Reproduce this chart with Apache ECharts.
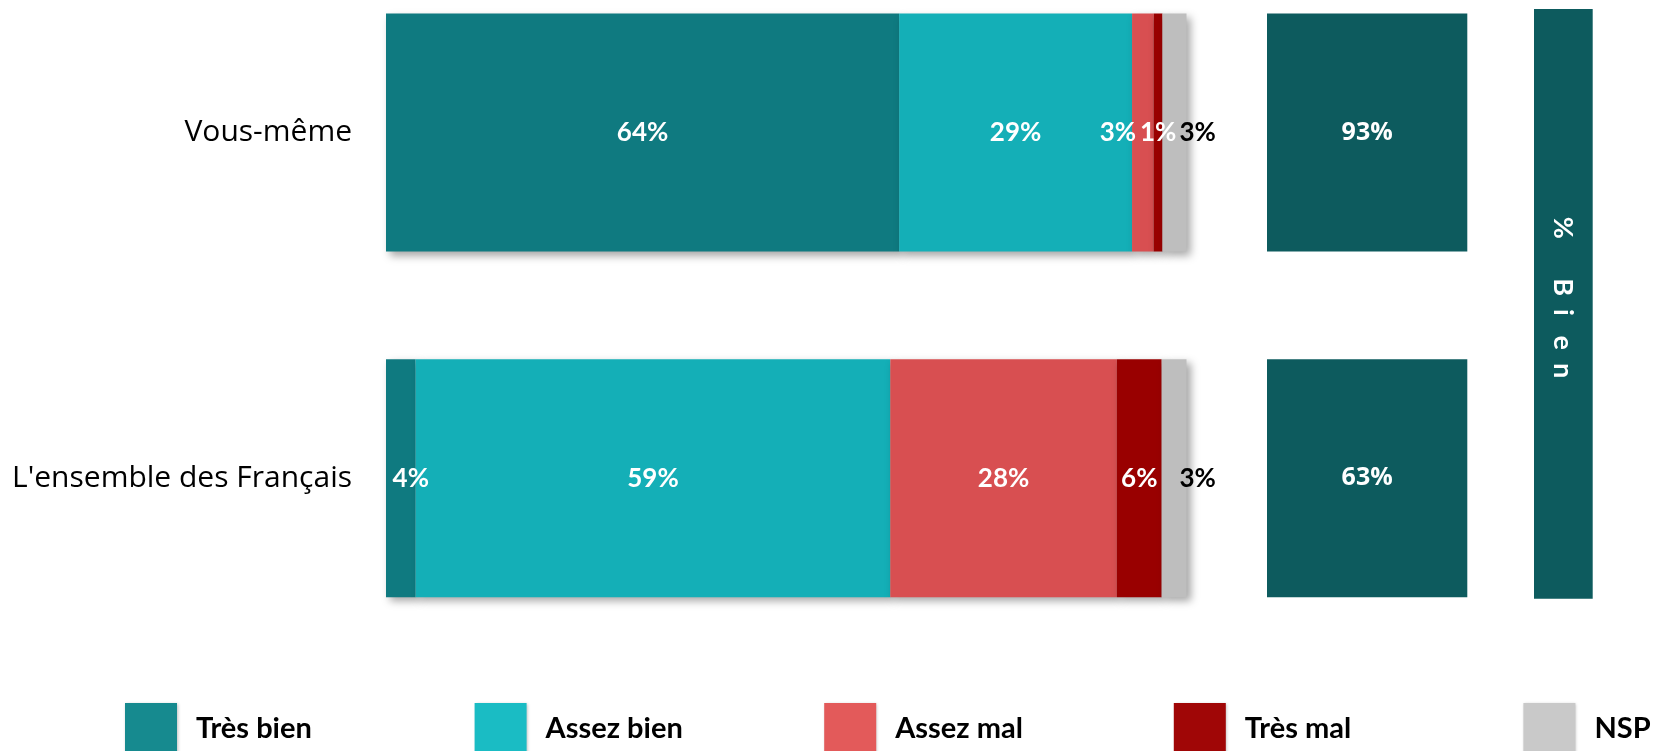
<!DOCTYPE html>
<html>
<head>
<meta charset="utf-8">
<script src="https://cdn.jsdelivr.net/npm/echarts/dist/echarts.min.js"></script>
<style>
  html, body { margin: 0; padding: 0; background: #fff; }
  #chart { width: 1658px; height: 751px; }
</style>
</head>
<body>
<div id="chart"></div>
<script>
const categories = ['Vous-même', "L'ensemble des Français"];
const seriesNames = ['Très bien', 'Assez bien', 'Assez mal', 'Très mal', 'NSP'];
const tresBien = [64.1, 3.7];
const assezBien = [29.1, 59.3];
const assezMal = [2.7, 28.3];
const tresMal = [1.1, 5.6];
const nsp = [3.0, 3.1];
const bienTotals = [93, 63];
const bienHeader = '%      B  i   e  n';

const seriesValues = [tresBien, assezBien, assezMal, tresMal, nsp];
const barColors = ['#0F7A80', '#14AFB7', '#D84F51', '#990000', '#BEBEBE'];
const legendColors = ['#168A8F', '#1ABCC4', '#E35A5A', '#A00606', '#C9C9C9'];
const boxColor = '#0D5B5E';

// label nudges (Excel moved overlapping labels sideways)
const labelOffsets = { '2-0': [-25, 0], '0-1': [10, 0] };

const chart = echarts.init(document.getElementById('chart'), null, { renderer: 'canvas' });

// category ticks sit on the bar centres (boundaryGap false)
const gridTop = 132.5, gridHeight = 345.7;
const pct = p => Math.round(p.value) + '%';

const stackSeries = seriesValues.map((vals, si) => ({
  name: seriesNames[si],
  type: 'bar',
  stack: 'total',
  xAxisIndex: 0,
  yAxisIndex: 0,
  barWidth: 238,
  clip: false,
  itemStyle: {
    color: barColors[si],
    shadowColor: 'rgba(0,0,0,0.35)',
    shadowBlur: 8,
    shadowOffsetX: 4,
    shadowOffsetY: 4
  },
  label: si === 4 ? {
    show: true, position: 'right', distance: -7,
    formatter: pct, color: '#000',
    fontFamily: 'Lato', fontWeight: 'bold', fontSize: 26
  } : {
    show: true, position: 'inside',
    formatter: pct, color: '#fff',
    fontFamily: 'Lato', fontWeight: 'bold', fontSize: 26
  },
  data: vals.map((v, di) => {
    const off = labelOffsets[si + '-' + di];
    return off ? { value: v, label: { offset: off } } : v;
  })
}));

const boxSeries = {
  name: 'bien',
  type: 'bar',
  xAxisIndex: 1,
  yAxisIndex: 1,
  barWidth: 238,
  clip: false,
  itemStyle: { color: boxColor },
  label: {
    show: true, position: 'inside',
    formatter: p => p.data.bien + '%',
    color: '#fff', fontFamily: 'Open Sans', fontWeight: 'bold', fontSize: 25
  },
  data: bienTotals.map(v => ({ value: 100, bien: v }))
};

const option = {
  animation: false,
  backgroundColor: '#fff',
  grid: [
    { left: 386, width: 800.5, top: gridTop, height: gridHeight },
    { left: 1267, width: 200.3, top: gridTop, height: gridHeight }
  ],
  xAxis: [
    { type: 'value', gridIndex: 0, min: 0, max: 100, show: false },
    { type: 'value', gridIndex: 1, min: 0, max: 100, show: false }
  ],
  yAxis: [
    {
      type: 'category', gridIndex: 0, data: categories, inverse: true, boundaryGap: false,
      axisLine: { show: false }, axisTick: { show: false }, splitLine: { show: false },
      axisLabel: { margin: 34, fontFamily: 'Open Sans', fontSize: 30, color: '#000' }
    },
    { type: 'category', gridIndex: 1, data: categories, inverse: true, boundaryGap: false, show: false }
  ],
  legend: seriesNames.map((n, i) => ({
    data: [{ name: n, itemStyle: { color: legendColors[i], shadowColor: 'rgba(0,0,0,0.25)', shadowBlur: 3, shadowOffsetX: 1, shadowOffsetY: 1 } }],
    left: 125 + i * 349.6,
    top: 703,
    padding: 0,
    itemWidth: 52,
    itemHeight: 52,
    icon: 'rect',
    selectedMode: false,
    textStyle: {
      fontFamily: 'Lato', fontWeight: 'bold', fontSize: 29, color: '#000',
      padding: [0, 0, 0, 14]
    }
  })),
  graphic: [
    {
      type: 'rect', z: 0,
      shape: { x: 1534, y: 9, width: 58.7, height: 589.7 },
      style: { fill: boxColor }
    },
    {
      type: 'text', z: 1,
      x: 1563, y: 297.5, rotation: -Math.PI / 2,
      style: {
        text: bienHeader,
        fill: '#fff',
        font: 'bold 27px Lato',
        align: 'center', verticalAlign: 'middle',
        textAlign: 'center', textVerticalAlign: 'middle'
      }
    }
  ],
  series: [...stackSeries, boxSeries]
};

chart.setOption(option);
</script>
</body>
</html>
